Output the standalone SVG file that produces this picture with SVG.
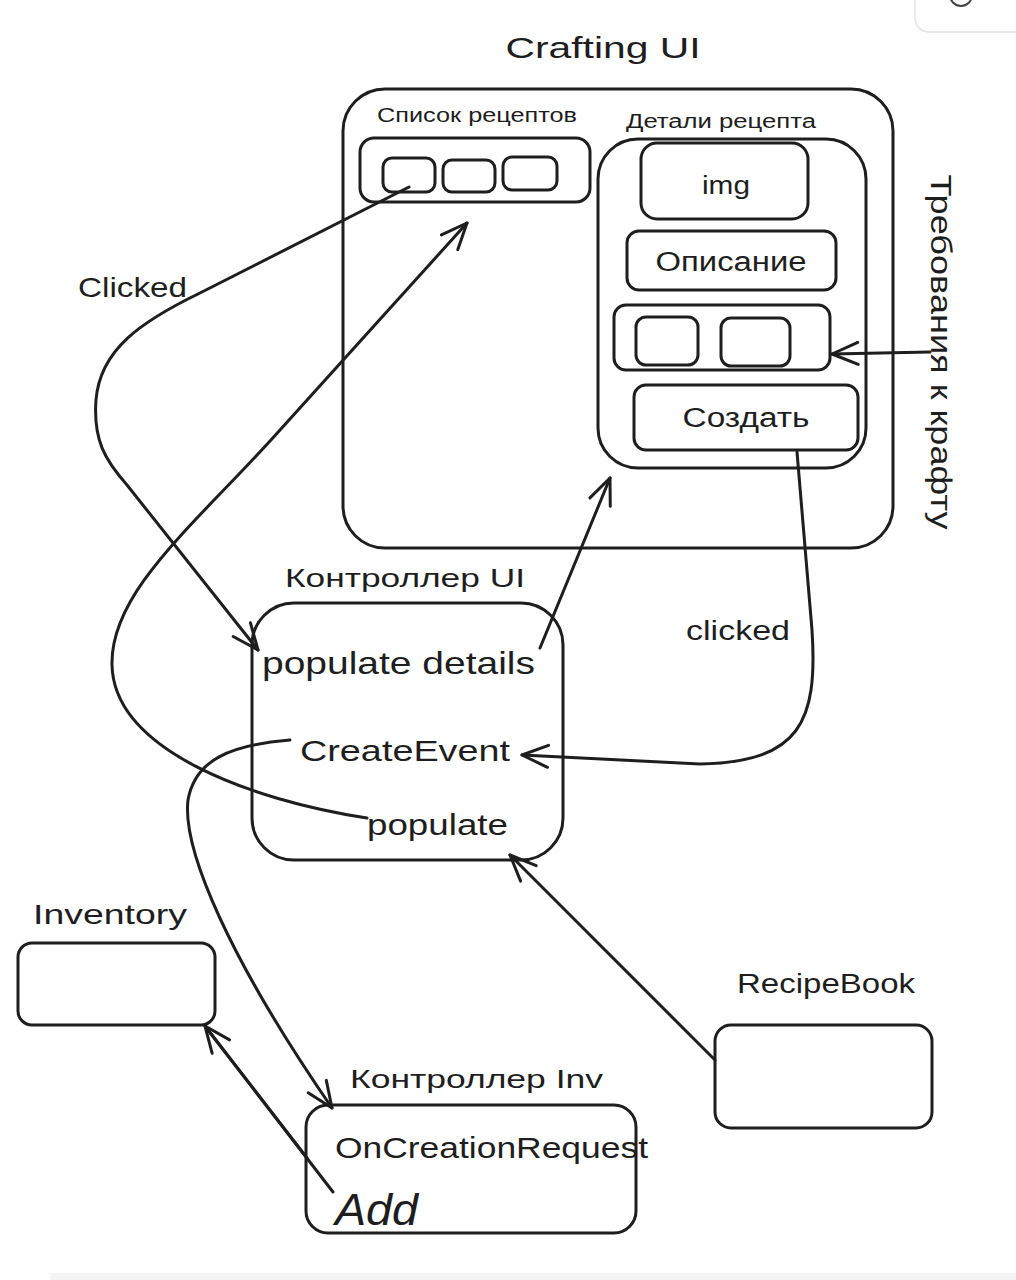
<svg xmlns="http://www.w3.org/2000/svg" width="1016" height="1280" viewBox="0 0 1016 1280">
<defs>
<style>
.box{fill:none;stroke:#1e1e1e;stroke-width:3;stroke-linejoin:round}
.t{font-family:"Liberation Sans","Noto Sans",sans-serif;fill:#1e1e1e}
.c{fill:none;stroke:#1e1e1e;stroke-width:3;stroke-linecap:round;stroke-linejoin:round}
</style>
<marker id="arr" markerUnits="userSpaceOnUse" markerWidth="40" markerHeight="40" viewBox="-30 -20 40 40" refX="0" refY="0" orient="auto">
<path d="M-26,-11 L0,0 L-26,11" fill="none" stroke="#1e1e1e" stroke-width="3" stroke-linecap="round" stroke-linejoin="round"/>
</marker>
</defs>
<rect width="1016" height="1280" fill="#ffffff"/>
<rect x="915" y="-30" width="130" height="62" rx="14" fill="#ffffff" stroke="#e4e4e4" stroke-width="1.5"/>
<circle cx="961" cy="-5" r="11" fill="none" stroke="#444" stroke-width="2"/>
<rect x="50" y="1273" width="966" height="7" fill="#f4f4f4"/>

<g id="crafting-ui">
<rect class="box" x="343" y="89" width="550" height="459" rx="42"/>
<text class="t" x="603" y="58" font-size="30" text-anchor="middle" textLength="195" lengthAdjust="spacingAndGlyphs">Crafting UI</text>
</g>
<g id="recipe-list">
<text class="t" x="377" y="122" font-size="20" textLength="200" lengthAdjust="spacingAndGlyphs">Список рецептов</text>
<rect class="box" x="360" y="138" width="230" height="64" rx="14"/>
<rect class="box" x="383" y="158" width="52" height="34" rx="9"/>
<rect class="box" x="443" y="160" width="52" height="32" rx="9"/>
<rect class="box" x="503" y="157" width="54" height="33" rx="9"/>
</g>
<g id="recipe-details">
<text class="t" x="626" y="128" font-size="20" textLength="190" lengthAdjust="spacingAndGlyphs">Детали рецепта</text>
<rect class="box" x="598" y="139" width="268" height="329" rx="40"/>
</g>
<g id="img">
<rect class="box" x="641" y="143" width="167" height="76" rx="16"/>
<text class="t" x="726" y="194" font-size="26" text-anchor="middle" textLength="48" lengthAdjust="spacingAndGlyphs">img</text>
</g>
<g id="description">
<rect class="box" x="627" y="231" width="209" height="59" rx="12"/>
<text class="t" x="731" y="271" font-size="27" text-anchor="middle" textLength="151" lengthAdjust="spacingAndGlyphs">Описание</text>
</g>
<g id="requirements">
<rect class="box" x="614" y="305" width="216" height="65" rx="12"/>
<rect class="box" x="636" y="317" width="62" height="48" rx="10"/>
<rect class="box" x="721" y="318" width="69" height="48" rx="10"/>
</g>
<g id="create-button">
<rect class="box" x="634" y="385" width="224" height="65" rx="12"/>
<text class="t" x="746" y="427" font-size="27" text-anchor="middle" textLength="127" lengthAdjust="spacingAndGlyphs">Создать</text>
</g>
<g id="requirements-label">
<text class="t" transform="translate(931,352) rotate(90)" font-size="29" text-anchor="middle" textLength="355" lengthAdjust="spacingAndGlyphs">Требования к крафту</text>
</g>

<g id="ui-controller">
<text class="t" x="285" y="587" font-size="25" textLength="240" lengthAdjust="spacingAndGlyphs">Контроллер UI</text>
<rect class="box" x="252" y="603" width="311" height="257" rx="42"/>
<text class="t" x="262" y="674" font-size="32" textLength="273" lengthAdjust="spacingAndGlyphs">populate details</text>
<text class="t" x="300" y="761" font-size="30" textLength="210" lengthAdjust="spacingAndGlyphs">CreateEvent</text>
<text class="t" x="367" y="835" font-size="30" textLength="141" lengthAdjust="spacingAndGlyphs">populate</text>
</g>

<g id="inventory">
<text class="t" x="33" y="924" font-size="28" textLength="154" lengthAdjust="spacingAndGlyphs">Inventory</text>
<rect class="box" x="18" y="943" width="197" height="82" rx="14"/>
</g>
<g id="inv-controller">
<text class="t" x="350" y="1088" font-size="26" textLength="253" lengthAdjust="spacingAndGlyphs">Контроллер Inv</text>
<rect class="box" x="306" y="1105" width="330" height="128" rx="22"/>
<text class="t" x="335" y="1158" font-size="30" textLength="313" lengthAdjust="spacingAndGlyphs">OnCreationRequest</text>
<text class="t" x="335" y="1225" font-size="44" font-style="italic" textLength="83" lengthAdjust="spacingAndGlyphs">Add</text>
</g>
<g id="recipe-book">
<text class="t" x="737" y="993" font-size="28" textLength="178" lengthAdjust="spacingAndGlyphs">RecipeBook</text>
<rect class="box" x="715" y="1025" width="217" height="103" rx="16"/>
</g>

<g id="connectors">
<path class="c" d="M 409 187 L 200 293 C 140 322, 100 350, 96 400 C 93 440, 105 460, 127 485 L 258 650" marker-end="url(#arr)"/>
<text class="t" x="78" y="297" font-size="28" textLength="109" lengthAdjust="spacingAndGlyphs">Clicked</text>
<path class="c" d="M 367 818 C 250 800, 114 750, 112 665 C 110 590, 200 520, 280 430 L 467 223" marker-end="url(#arr)"/>
<path class="c" d="M 540 648 L 610 478" marker-end="url(#arr)"/>
<path class="c" d="M 797 452 L 812 630 C 818 722, 800 762, 700 764 L 522 755" marker-end="url(#arr)"/>
<text class="t" x="686" y="640" font-size="28" textLength="104" lengthAdjust="spacingAndGlyphs">clicked</text>
<path class="c" d="M 290 740 C 230 745, 195 760, 188 800 C 182 850, 230 960, 332 1108" marker-end="url(#arr)"/>
<path class="c" d="M 333 1192 L 205 1026" marker-end="url(#arr)"/>
<path class="c" d="M 307 1158 L 208 1030" stroke-width="2.4"/>
<path class="c" d="M 715 1060 L 510 855" marker-end="url(#arr)"/>
<path class="c" d="M 930 352 L 832 354" marker-end="url(#arr)"/>
</g>
</svg>
